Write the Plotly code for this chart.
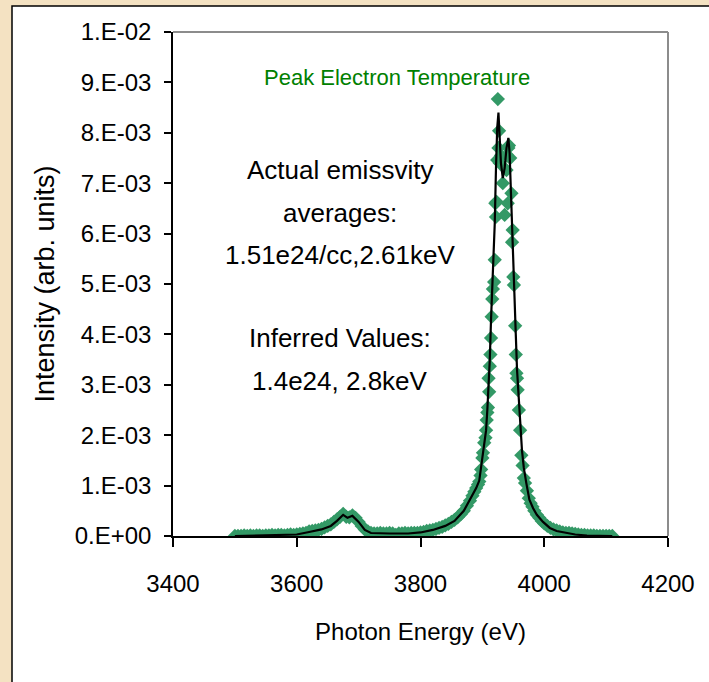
import plotly.graph_objects as go

# ---- measured spectrum (diamonds): photon energy (eV) and intensity (x1e-3, arb. units)
meas_energy = [
    3500, 3505, 3510, 3515, 3520, 3525, 3530, 3535, 3540, 3545, 3550, 3555, 3560, 3565,
    3570, 3575, 3580, 3585, 3590, 3595, 3600, 3605, 3610, 3615, 3620, 3625, 3630, 3635,
    3640, 3645, 3650, 3655, 3660, 3665, 3670, 3675, 3680, 3685, 3690, 3695, 3700, 3705,
    3710, 3715, 3720, 3725, 3730, 3735, 3740, 3745, 3750, 3755, 3760, 3765, 3770, 3775,
    3780, 3785, 3790, 3795, 3800, 3805, 3810, 3815, 3820, 3825, 3830, 3835, 3840, 3845,
    3850, 3855, 3860, 3865, 3870, 3875, 3880, 3884, 3887, 3890, 3893, 3895, 3897, 3898,
    3900, 3901, 3903, 3905, 3906, 3907, 3908, 3909, 3910, 3911, 3912, 3913, 3914, 3915,
    3916, 3917, 3919, 3920, 3921, 3922, 3923, 3924, 3925, 3926, 3927, 3928, 3930, 3933,
    3936, 3939, 3940, 3941, 3942, 3943, 3945, 3947, 3948, 3949, 3950, 3951, 3953, 3954,
    3955, 3956, 3957, 3959, 3961, 3963, 3965, 3967, 3969, 3972, 3975, 3978, 3981, 3984,
    3988, 3992, 3996, 4000, 4005, 4010, 4015, 4020, 4025, 4030, 4035, 4040, 4045, 4050,
    4055, 4060, 4065, 4070, 4075, 4080, 4085, 4090, 4095, 4100, 4105, 4110,
]
meas_intensity = [
    0.00, 0.00, 0.00, 0.01, 0.00, 0.01, 0.00, 0.01, 0.01, 0.00, 0.01, 0.01, 0.02, 0.01,
    0.02, 0.02, 0.01, 0.02, 0.03, 0.02, 0.03, 0.04, 0.05, 0.06, 0.09, 0.10, 0.11, 0.12,
    0.14, 0.17, 0.20, 0.23, 0.28, 0.33, 0.38, 0.44, 0.38, 0.37, 0.41, 0.36, 0.28, 0.20,
    0.13, 0.09, 0.06, 0.05, 0.05, 0.06, 0.05, 0.05, 0.06, 0.05, 0.02, 0.05, 0.05, 0.06,
    0.05, 0.06, 0.06, 0.06, 0.07, 0.08, 0.10, 0.11, 0.12, 0.14, 0.16, 0.18, 0.21, 0.24,
    0.28, 0.32, 0.37, 0.43, 0.50, 0.60, 0.70, 0.80, 0.88, 0.95, 1.02, 1.08, 1.20, 1.32,
    1.55, 1.65, 1.85, 1.95, 2.10, 2.30, 2.45, 2.55, 3.13, 2.86, 3.37, 3.60, 3.93, 4.35,
    4.70, 4.90, 5.04, 5.48, 6.60, 6.33, 6.63, 7.46, 8.67, 7.70, 8.04, 7.40, 7.55, 7.00,
    6.37, 7.26, 7.55, 6.60, 7.70, 7.75, 7.50, 6.80, 5.83, 6.07, 5.14, 4.98, 4.17, 3.60,
    3.23, 3.13, 2.90, 2.50, 2.10, 1.60, 1.40, 1.15, 1.05, 0.90, 0.75, 0.65, 0.58, 0.50,
    0.42, 0.36, 0.30, 0.25, 0.20, 0.16, 0.13, 0.11, 0.09, 0.07, 0.06, 0.06, 0.05, 0.04,
    0.03, 0.02, 0.02, 0.01, 0.01, 0.01, 0.00, 0.00, 0.00, 0.00, 0.00, 0.00,
]

# ---- model spectrum (solid line), same units
model_energy = [
    3500, 3550, 3600, 3620, 3640, 3655, 3665, 3675, 3682, 3690, 3700, 3710, 3720, 3750,
    3780, 3800, 3820, 3840, 3855, 3870, 3880, 3890, 3895, 3900, 3903, 3906, 3908, 3910,
    3912, 3914, 3916, 3918, 3920, 3922, 3924, 3926, 3928, 3930, 3933, 3936, 3939, 3942,
    3944, 3946, 3948, 3950, 3952, 3954, 3956, 3958, 3961, 3964, 3967, 3971, 3976, 3982,
    3988, 3998, 4009, 4020, 4036, 4050, 4069, 4090, 4110,
]
model_intensity = [
    0.00, 0.01, 0.03, 0.08, 0.13, 0.20, 0.30, 0.42, 0.36, 0.40, 0.28, 0.12, 0.06, 0.05,
    0.05, 0.07, 0.12, 0.20, 0.30, 0.50, 0.72, 0.95, 1.10, 1.55, 1.80, 2.10, 2.50, 2.90,
    3.50, 4.30, 4.90, 5.40, 6.20, 7.30, 8.10, 8.40, 8.00, 7.40, 7.10, 7.30, 7.70, 7.90,
    7.60, 6.80, 6.10, 5.30, 4.60, 4.00, 3.30, 2.80, 2.30, 1.70, 1.35, 1.05, 0.72, 0.55,
    0.42, 0.28, 0.16, 0.10, 0.06, 0.03, 0.01, 0.00, 0.00,
]

x_ticks = [3400, 3600, 3800, 4000, 4200]
y_ticks = [0, 1, 2, 3, 4, 5, 6, 7, 8, 9, 10]
y_tick_text = ["0.E+00", "1.E-03", "2.E-03", "3.E-03", "4.E-03", "5.E-03",
               "6.E-03", "7.E-03", "8.E-03", "9.E-03", "1.E-02"]

SCALE = 1e-3
FONT = "Liberation Sans, Arial, sans-serif"
GREEN = "#339966"

fig = go.Figure()

fig.add_trace(go.Scatter(
    x=meas_energy, y=[v * SCALE for v in meas_intensity],
    mode="markers",
    marker=dict(symbol="diamond", size=11, color=GREEN, line=dict(width=0)),
    showlegend=False, hoverinfo="x+y",
))
fig.add_trace(go.Scatter(
    x=model_energy, y=[v * SCALE for v in model_intensity],
    mode="lines",
    line=dict(color="black", width=2.2),
    showlegend=False, hoverinfo="x+y",
))

# page geometry (pixels) used to place the white panel in paper coordinates
W, H = 709, 682
L, R, T, B = 173, 41, 32, 146
pw, ph = W - L - R, H - T - B


def px_x(px):
    return (px - L) / pw


def px_y(py):
    return (H - B - py) / ph


shapes = [
    # white slide panel with black frame
    dict(type="rect", xref="paper", yref="paper",
         x0=px_x(12), x1=px_x(W + 20), y0=px_y(H + 20), y1=px_y(6),
         fillcolor="white", line=dict(color="black", width=1.5), layer="below"),
    # grey plot-area frame (top and right edges)
    dict(type="line", xref="paper", yref="paper", x0=0, x1=1, y0=1, y1=1,
         line=dict(color="#8c8c8c", width=2), layer="below"),
    dict(type="line", xref="paper", yref="paper", x0=1, x1=1, y0=0, y1=1,
         line=dict(color="#8c8c8c", width=2), layer="below"),
]

annotations = [
    dict(text="Peak Electron Temperature", x=px_x(397), y=px_y(77),
         font=dict(color="#008000", size=22, family=FONT)),
    dict(text="Actual emissvity", x=px_x(340), y=px_y(170),
         font=dict(color="black", size=26, family=FONT)),
    dict(text="averages:", x=px_x(340), y=px_y(213),
         font=dict(color="black", size=26, family=FONT)),
    dict(text="1.51e24/cc,2.61keV", x=px_x(340), y=px_y(255),
         font=dict(color="black", size=26, family=FONT)),
    dict(text="Inferred Values:", x=px_x(340), y=px_y(338),
         font=dict(color="black", size=26, family=FONT)),
    dict(text="1.4e24, 2.8keV", x=px_x(340), y=px_y(381),
         font=dict(color="black", size=26, family=FONT)),
]
for a in annotations:
    a.update(xref="paper", yref="paper", showarrow=False, xanchor="center", yanchor="middle")

fig.update_layout(
    width=W, height=H,
    margin=dict(l=L, r=R, t=T, b=B, pad=0),
    paper_bgcolor="#f4e2c2",
    plot_bgcolor="white",
    shapes=shapes,
    annotations=annotations,
    font=dict(family=FONT, color="black"),
    xaxis=dict(
        range=[3400, 4200], tickvals=x_ticks, ticktext=[str(v) for v in x_ticks],
        showgrid=False, zeroline=False,
        showline=True, linecolor="black", linewidth=1.5,
        ticks="outside", ticklen=9, tickwidth=1.5, tickcolor="black",
        tickfont=dict(size=24, family=FONT), ticklabelstandoff=16,
        title=dict(text="Photon Energy (eV)", font=dict(size=24, family=FONT), standoff=28),
    ),
    yaxis=dict(
        range=[0, 10 * SCALE], tickvals=[v * SCALE for v in y_ticks], ticktext=y_tick_text,
        showgrid=False, zeroline=False,
        showline=True, linecolor="black", linewidth=1.5,
        ticks="outside", ticklen=7, tickwidth=1.5, tickcolor="black",
        tickfont=dict(size=24, family=FONT), ticklabelstandoff=8,
        title=dict(text="Intensity (arb. units)", font=dict(size=27, family=FONT), standoff=12),
    ),
)

fig.write_html("out.html")
